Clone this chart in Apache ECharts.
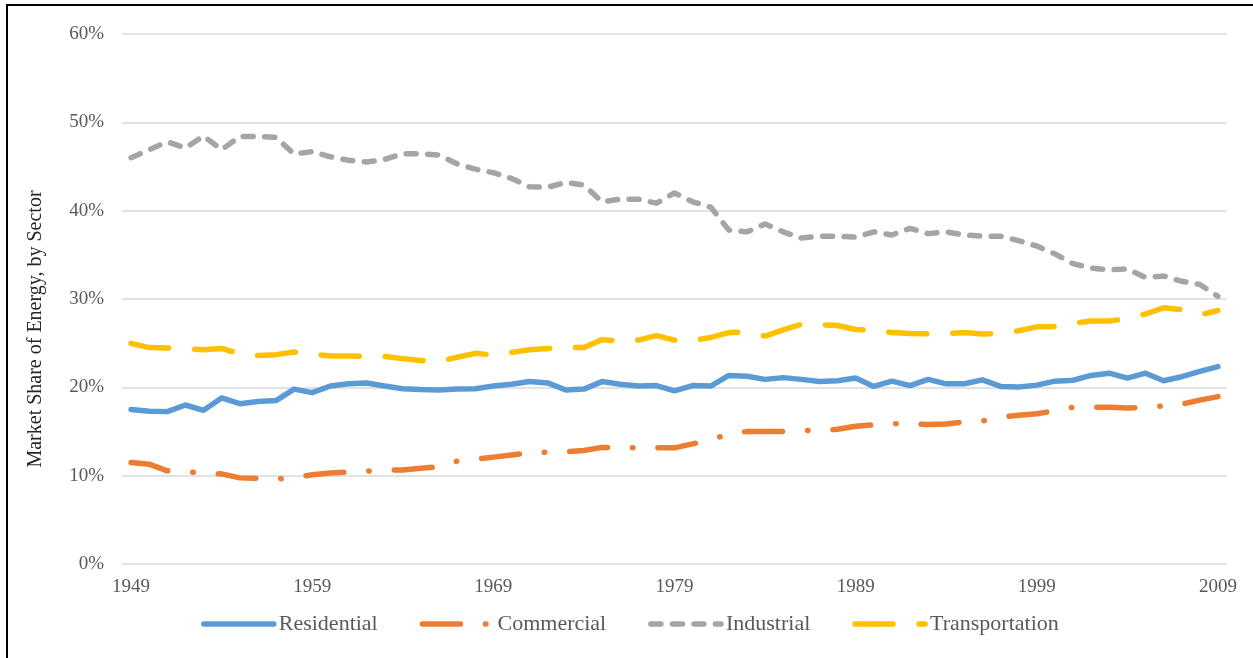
<!DOCTYPE html>
<html>
<head>
<meta charset="utf-8">
<title>Market Share of Energy, by Sector</title>
<script src="https://cdn.jsdelivr.net/npm/echarts@6/dist/echarts.min.js"></script>
<style>
  html, body { margin: 0; padding: 0; background: #ffffff; }
  #chart { width: 1253px; height: 658px; }
</style>
</head>
<body>
<div id="chart"></div>
<script>
// Years on the category axis
const years = [
  '1949','1950','1951','1952','1953','1954','1955','1956','1957','1958',
  '1959','1960','1961','1962','1963','1964','1965','1966','1967','1968',
  '1969','1970','1971','1972','1973','1974','1975','1976','1977','1978',
  '1979','1980','1981','1982','1983','1984','1985','1986','1987','1988',
  '1989','1990','1991','1992','1993','1994','1995','1996','1997','1998',
  '1999','2000','2001','2002','2003','2004','2005','2006','2007','2008',
  '2009'
];

// Years that carry a tick label
const xTickLabels = ['1949', '1959', '1969', '1979', '1989', '1999', '2009'];

// Share of total energy use by sector, percent
const residential = [
  17.5, 17.3, 17.25, 18.0, 17.4, 18.8, 18.15, 18.4, 18.5, 19.8,
  19.4, 20.15, 20.4, 20.5, 20.15, 19.85, 19.75, 19.7, 19.8, 19.85,
  20.15, 20.35, 20.65, 20.5, 19.7, 19.8, 20.65, 20.35, 20.15, 20.2,
  19.6, 20.2, 20.15, 21.35, 21.25, 20.9, 21.1, 20.9, 20.65, 20.75,
  21.05, 20.1, 20.7, 20.2, 20.9, 20.4, 20.4, 20.85, 20.1, 20.05,
  20.25, 20.7, 20.8, 21.35, 21.6, 21.05, 21.6, 20.75, 21.2, 21.8,
  22.35
];

const commercial = [
  11.5, 11.3, 10.55, 10.4, 10.35, 10.2, 9.75, 9.7, 9.6, 9.8,
  10.1, 10.3, 10.4, 10.5, 10.65, 10.65, 10.85, 11.0, 11.65, 11.85,
  12.1, 12.35, 12.6, 12.65, 12.7, 12.85, 13.2, 13.2, 13.15, 13.15,
  13.15, 13.6, 14.1, 14.7, 15.0, 15.0, 15.0, 15.1, 15.1, 15.25,
  15.6, 15.75, 15.9, 15.85, 15.8, 15.85, 16.1, 16.2, 16.6, 16.85,
  17.0, 17.35, 17.75, 17.75, 17.75, 17.65, 17.75, 17.9, 18.1, 18.55,
  18.95
];

const industrial = [
  46.0, 46.9, 47.8, 47.1, 48.45, 46.9, 48.4, 48.4, 48.3, 46.4,
  46.7, 46.1, 45.7, 45.5, 45.8, 46.45, 46.45, 46.3, 45.3, 44.7,
  44.3, 43.65, 42.7, 42.65, 43.2, 42.9, 41.0, 41.3, 41.3, 40.85,
  42.0, 41.0, 40.4, 37.8, 37.6, 38.5, 37.6, 36.9, 37.1, 37.1,
  37.0, 37.6, 37.25, 38.0, 37.4, 37.6, 37.25, 37.1, 37.1, 36.6,
  36.0, 35.1, 34.0, 33.5, 33.3, 33.4, 32.45, 32.6, 32.0, 31.65,
  30.3
];

const transportation = [
  24.98, 24.5, 24.45, 24.4, 24.25, 24.4, 23.8, 23.6, 23.7, 24.0,
  23.75, 23.55, 23.55, 23.5, 23.5, 23.25, 23.05, 22.95, 23.4, 23.85,
  23.65, 23.95, 24.25, 24.4, 24.5, 24.5, 25.4, 25.2, 25.35, 25.85,
  25.35, 25.3, 25.65, 26.2, 26.25, 25.8, 26.5, 27.15, 27.1, 27.0,
  26.55, 26.5, 26.2, 26.1, 26.05, 26.1, 26.2, 26.05, 26.1, 26.4,
  26.85, 26.9, 27.25, 27.5, 27.5, 27.8, 28.3, 29.0, 28.8, 28.2,
  28.7
];

const FONT = '"Liberation Serif", "Times New Roman", serif';
const LINE_W = 5.5;

function lineSeries(name, data, color, dash) {
  return {
    name: name,
    type: 'line',
    data: data,
    symbol: 'none',
    smooth: false,
    lineStyle: {
      color: color,
      width: LINE_W,
      type: dash,
      cap: 'round',
      join: 'round'
    },
    itemStyle: { color: color },
    emphasis: { disabled: true }
  };
}

const chart = echarts.init(document.getElementById('chart'), null, { renderer: 'canvas' });

chart.setOption({
  backgroundColor: '#ffffff',
  animation: false,
  textStyle: { fontFamily: FONT },
  grid: { left: 122, right: 26, top: 34, bottom: 94, containLabel: false },
  xAxis: {
    type: 'category',
    data: years,
    boundaryGap: true,
    axisLine: { show: false },
    axisTick: { show: false },
    axisLabel: {
      interval: function (idx, val) { return xTickLabels.indexOf(val) >= 0; },
      color: '#595959',
      fontFamily: FONT,
      fontSize: 19,
      margin: 14
    },
    splitLine: { show: false }
  },
  yAxis: {
    type: 'value',
    min: 0,
    max: 60,
    interval: 10,
    name: 'Market Share of Energy, by Sector',
    nameLocation: 'middle',
    nameRotate: 90,
    nameGap: 76,
    nameTextStyle: {
      color: '#262626',
      fontFamily: FONT,
      fontSize: 20,
      padding: [0, 60, 0, 0]
    },
    axisLine: { show: false },
    axisTick: { show: false },
    axisLabel: {
      formatter: '{value}%',
      color: '#595959',
      fontFamily: FONT,
      fontSize: 19,
      margin: 18
    },
    splitLine: { lineStyle: { color: '#d9d9d9', width: 1.5 } }
  },
  legend: {
    left: 196,
    top: 608,
    itemWidth: 70,
    itemHeight: 14,
    itemGap: 42,
    itemStyle: { color: 'rgba(0,0,0,0)', borderWidth: 0, borderColor: 'rgba(0,0,0,0)' },
    lineStyle: { width: LINE_W },
    textStyle: { color: '#595959', fontFamily: FONT, fontSize: 22 },
    data: ['Residential', 'Commercial', 'Industrial', 'Transportation']
  },
  series: [
    lineSeries('Residential', residential, '#5b9bd5', 'solid'),
    lineSeries('Commercial', commercial, '#ed7d31', [38, 25, 0.5, 25]),
    lineSeries('Industrial', industrial, '#a5a5a5', [10, 11.5]),
    lineSeries('Transportation', transportation, '#ffc000', [38, 26])
  ],
  graphic: [{
    type: 'rect',
    silent: true,
    shape: { x: 7, y: 5, width: 1400, height: 800 },
    style: { fill: null, stroke: '#000000', lineWidth: 2 }
  }]
});
</script>
</body>
</html>
